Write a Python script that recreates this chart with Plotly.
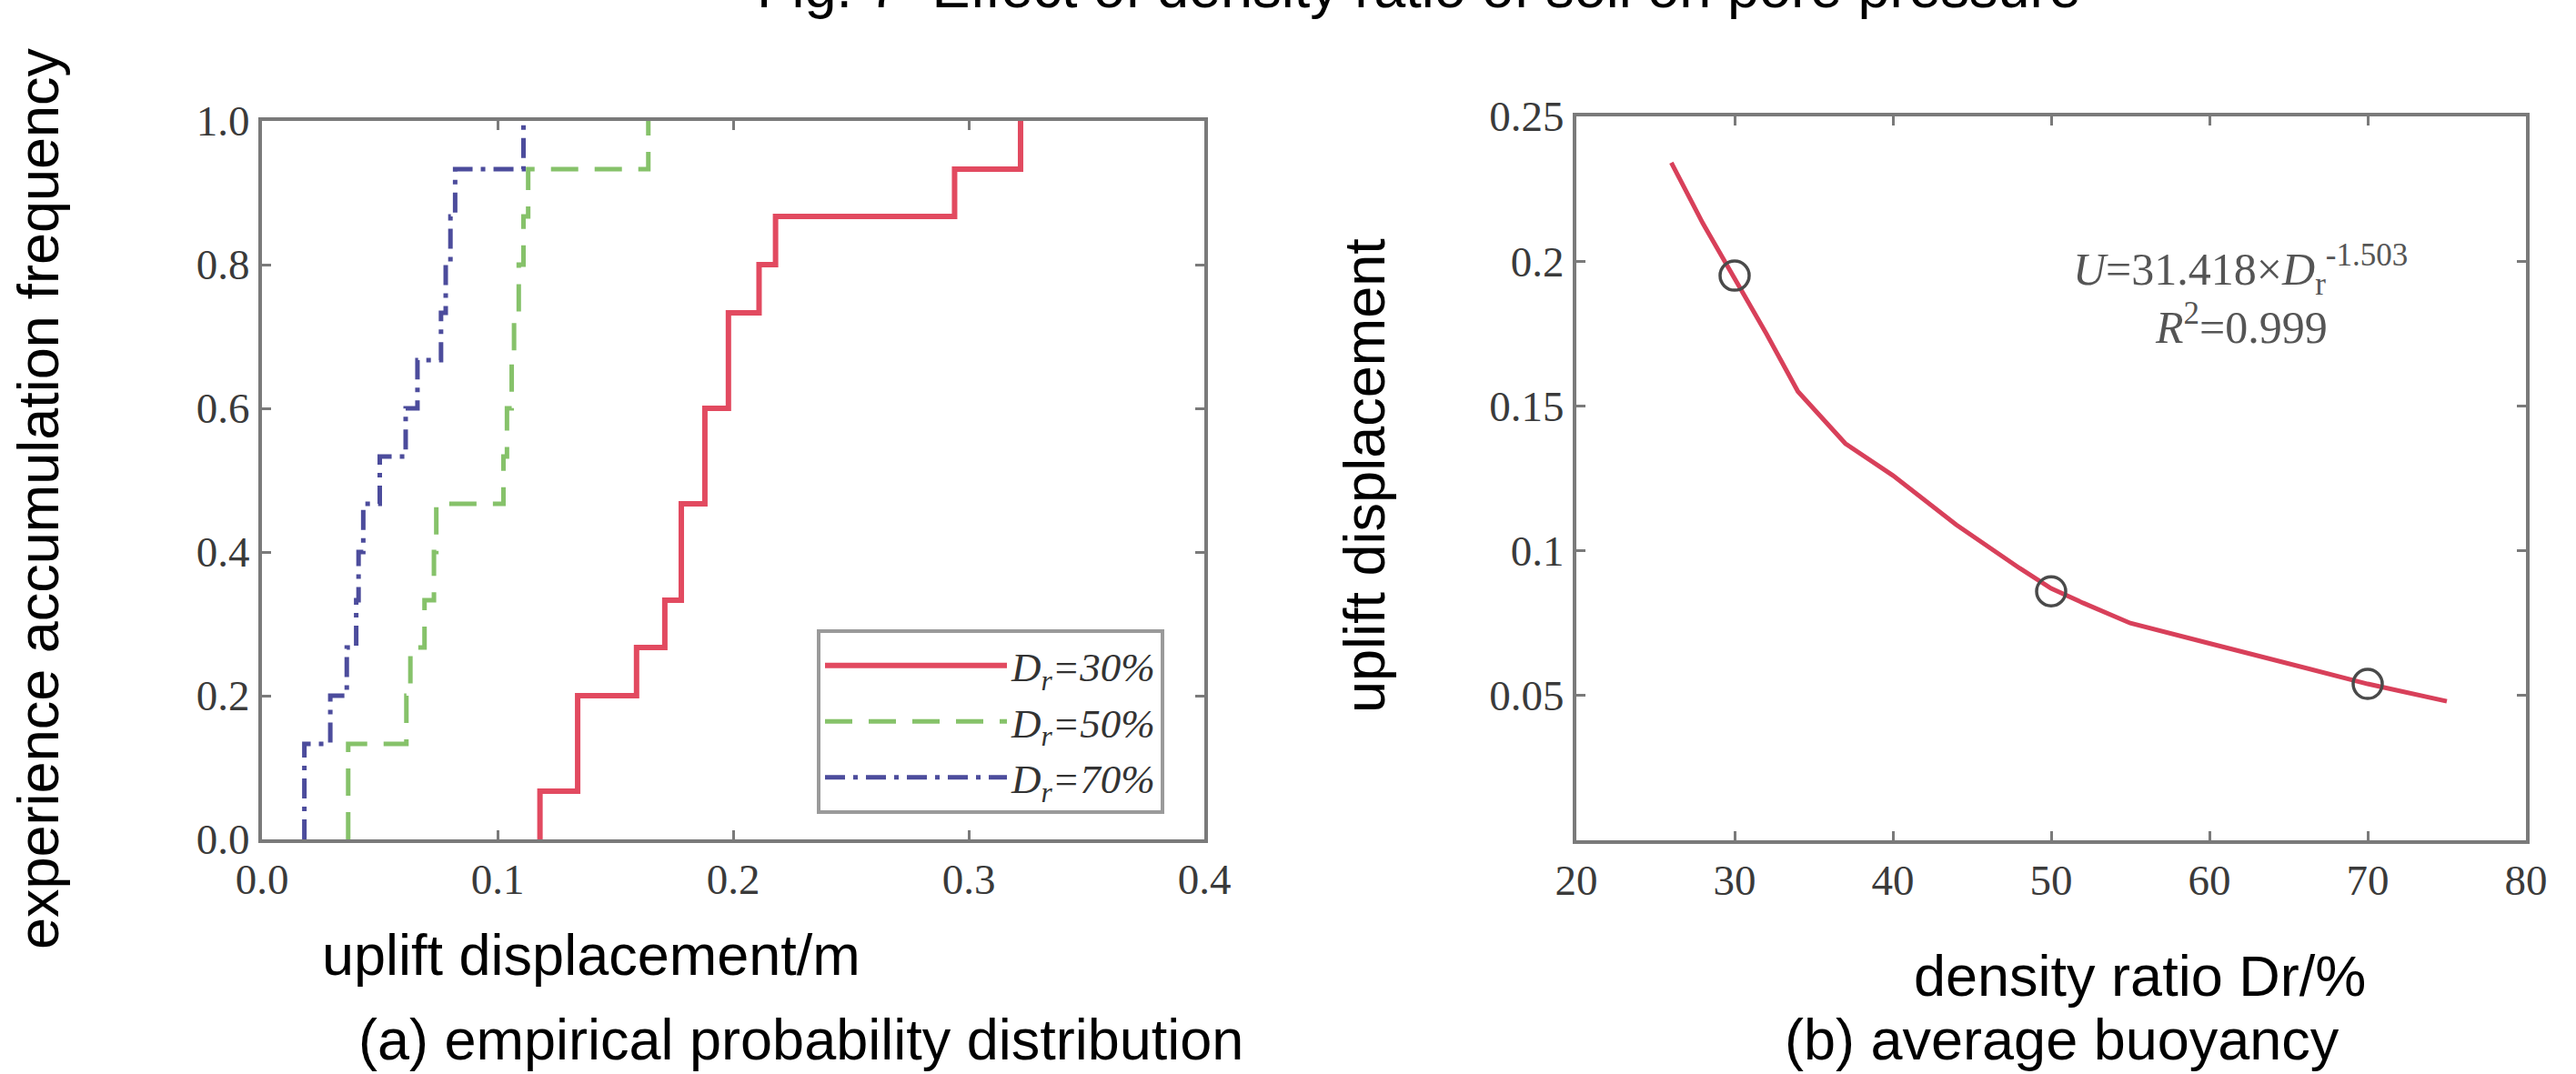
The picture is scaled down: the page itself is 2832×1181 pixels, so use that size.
import plotly.graph_objects as go

W, H = 2832, 1181

# ---------------- data: panel (a) empirical CDF steps ----------------
red_x = [0.118, 0.118, 0.134, 0.159, 0.171, 0.178, 0.188, 0.198, 0.211, 0.218, 0.294, 0.322]
red_y = [0.0, 0.067, 0.2, 0.267, 0.333, 0.467, 0.6, 0.733, 0.8, 0.867, 0.933, 1.0]

green_x = [0.0366, 0.0366, 0.0613, 0.063, 0.069, 0.073, 0.074, 0.1025, 0.104, 0.106, 0.107, 0.109, 0.111, 0.113, 0.164]
green_y = [0.0, 0.133, 0.2, 0.267, 0.333, 0.4, 0.467, 0.533, 0.6, 0.667, 0.733, 0.8, 0.867, 0.933, 1.0]

blue_x = [0.018, 0.018, 0.029, 0.036, 0.040, 0.041, 0.043, 0.050, 0.061, 0.066, 0.076, 0.078, 0.080, 0.082, 0.111]
blue_y = [0.0, 0.133, 0.2, 0.267, 0.333, 0.4, 0.467, 0.533, 0.6, 0.667, 0.733, 0.8, 0.867, 0.933, 1.0]

series_names = ["<i>D</i><sub>r</sub>=30%", "<i>D</i><sub>r</sub>=50%", "<i>D</i><sub>r</sub>=70%"]

a_xticks = [0.0, 0.1, 0.2, 0.3, 0.4]
a_xtext = ["0.0", "0.1", "0.2", "0.3", "0.4"]
a_yticks = [0.0, 0.2, 0.4, 0.6, 0.8, 1.0]
a_ytext = ["0.0", "0.2", "0.4", "0.6", "0.8", "1.0"]

# ---------------- data: panel (b) ----------------
dr_points = [30, 50, 70]
u_points = [0.195, 0.086, 0.054]

fit_x = [26, 28, 30, 32, 34, 37, 40, 44, 48, 50, 52, 55, 60, 65, 70, 75]
fit_y = [0.234, 0.213, 0.194, 0.175, 0.155, 0.137, 0.126, 0.109, 0.094, 0.087, 0.082, 0.075, 0.068, 0.061, 0.054, 0.048]

b_xticks = [20, 30, 40, 50, 60, 70, 80]
b_yticks = [0.05, 0.1, 0.15, 0.2, 0.25]
b_ytext = ["0.05", "0.1", "0.15", "0.2", "0.25"]

# ---------------- styles ----------------
SERIF = "Liberation Serif"
SANS = "Liberation Sans"
AXC = "#7a7a7a"
TICKFONT = dict(family=SERIF, size=47, color="#3a3a3a")
LABELFONT = dict(family=SANS, size=63, color="#000000")

fig = go.Figure()

fig.add_trace(go.Scatter(x=red_x, y=red_y, mode="lines", line_shape="hv",
                         line=dict(color="#e24a60", width=6), name=series_names[0],
                         xaxis="x", yaxis="y"))
fig.add_trace(go.Scatter(x=green_x, y=green_y, mode="lines", line_shape="hv",
                         line=dict(color="#86c26a", width=5, dash="30px,18px"), name=series_names[1],
                         xaxis="x", yaxis="y"))
fig.add_trace(go.Scatter(x=blue_x, y=blue_y, mode="lines", line_shape="hv",
                         line=dict(color="#4c4c9c", width=5, dash="22px,9px,5px,9px"), name=series_names[2],
                         xaxis="x", yaxis="y"))

fig.add_trace(go.Scatter(x=fit_x, y=fit_y, mode="lines",
                         line=dict(color="#d8405a", width=5), showlegend=False,
                         xaxis="x2", yaxis="y2"))
fig.add_trace(go.Scatter(x=dr_points, y=u_points, mode="markers",
                         marker=dict(symbol="circle-open", size=32, color="#4a4a4a", line=dict(width=3.5, color="#4a4a4a")),
                         showlegend=False, xaxis="x2", yaxis="y2"))

common = dict(showline=True, linecolor=AXC, linewidth=4, mirror="allticks",
              ticks="inside", ticklen=10, tickwidth=3, tickcolor=AXC,
              showgrid=False, zeroline=False, tickfont=TICKFONT)

fig.update_layout(
    width=W, height=H,
    margin=dict(l=0, r=0, t=0, b=0, autoexpand=False),
    paper_bgcolor="white", plot_bgcolor="white",
    xaxis=dict(domain=[288 / W, 1324 / W], range=[0, 0.4], tickvals=a_xticks, ticktext=a_xtext,
               anchor="y", **common),
    yaxis=dict(domain=[(H - 923) / H, (H - 133) / H], range=[0, 1], tickvals=a_yticks, ticktext=a_ytext,
               anchor="x", **common),
    xaxis2=dict(domain=[1733 / W, 2777 / W], range=[20, 80], tickvals=b_xticks,
                anchor="y2", **common),
    yaxis2=dict(domain=[(H - 924) / H, (H - 128) / H], range=[0, 0.25], tickvals=b_yticks, ticktext=b_ytext,
                anchor="x2", **common),
    legend=dict(x=898 / W, y=(H - 692) / H, xanchor="left", yanchor="top",
                font=dict(family=SERIF, size=45, color="#333333", style="italic"),
                bordercolor="#9a9a9a", borderwidth=4, bgcolor="white",
                itemwidth=200, tracegroupgap=0),
    showlegend=True,
)

ann = [
    dict(text="Fig. 7  Effect of density ratio of soil on pore pressure", x=1560 / W, y=(H + 14) / H,
         xanchor="center", yanchor="middle", font=LABELFONT),
    dict(text="experience accumulation frequency", x=42 / W, y=(H - 548) / H, textangle=-90,
         xanchor="center", yanchor="middle", font=LABELFONT),
    dict(text="uplift displacement", x=1500 / W, y=(H - 523) / H, textangle=-90,
         xanchor="center", yanchor="middle", font=LABELFONT),
    dict(text="uplift displacement/m", x=650 / W, y=(H - 1050) / H,
         xanchor="center", yanchor="middle", font=LABELFONT),
    dict(text="(a) empirical probability distribution", x=880 / W, y=(H - 1143) / H,
         xanchor="center", yanchor="middle", font=LABELFONT),
    dict(text="density ratio Dr/%", x=2352 / W, y=(H - 1073) / H,
         xanchor="center", yanchor="middle", font=LABELFONT),
    dict(text="(b) average buoyancy", x=2267 / W, y=(H - 1143) / H,
         xanchor="center", yanchor="middle", font=LABELFONT),
    dict(text="<i>U</i>=31.418×<i>D</i><sub>r</sub><sup>-1.503</sup>", x=2463 / W, y=(H - 297) / H,
         xanchor="center", yanchor="middle", font=dict(family=SERIF, size=50, color="#555555")),
    dict(text="<i>R</i><sup>2</sup>=0.999", x=2464 / W, y=(H - 357) / H,
         xanchor="center", yanchor="middle", font=dict(family=SERIF, size=50, color="#555555")),
]
for a in ann:
    a.update(xref="paper", yref="paper", showarrow=False)
fig.update_layout(annotations=ann)

fig.write_html("out.html")
